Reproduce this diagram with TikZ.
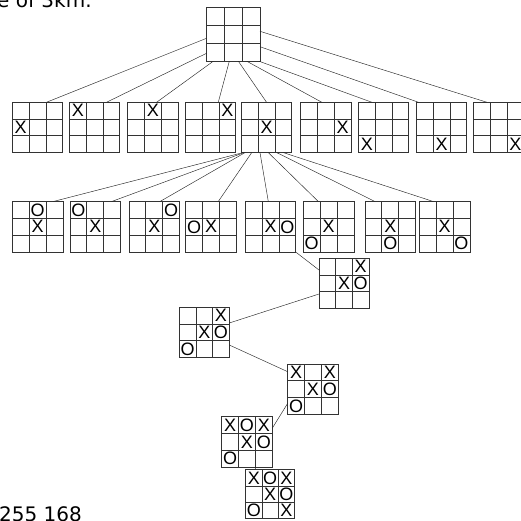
\documentclass[tikz,border=0pt]{standalone}
\usepackage{fontspec}
\setmainfont{Liberation Sans}
\newfontfamily\capfont{DejaVu Sans}
\usetikzlibrary{calc}

\tikzset{
  boardnode/.style={inner sep=0pt, outer sep=0pt},
  boardline/.style={line width=0.8pt, black!80},
  edge/.style={line width=0.45pt, black!85},
  markfont/.style={font=\fontsize{18}{18}\selectfont, inner sep=0pt},
  captext/.style={anchor=base west, inner sep=0pt, font=\capfont\fontsize{20}{20}\selectfont}
}

% Spielfeld: Name, linke Kante, obere Kante, Groesse
\newcommand{\tttboard}[4]{%
  \node[boardnode, minimum size=#4pt] (#1) at ({#2+#4/2},{#3+#4/2}) {};
  \draw[boardline] (#1.north west) rectangle (#1.south east);
  \foreach \k in {1,2} {
    \draw[boardline] ($(#1.north west)!\k/3!(#1.north east)$) -- ($(#1.south west)!\k/3!(#1.south east)$);
    \draw[boardline] ($(#1.north west)!\k/3!(#1.south west)$) -- ($(#1.north east)!\k/3!(#1.south east)$);
  }
}
% Zeichen: Name, Groesse, Zeile/Spalte/Zeichen
\newcommand{\tttmarks}[3]{%
  \foreach \row/\col/\mk in {#3}
    \node[markfont] at ($(#1.north west)+({(\col-0.5)*#2/3},{(\row-0.5)*#2/3})$) {\mk};
}

\begin{document}
\begin{tikzpicture}[x=1pt,y=-1pt]
  \useasboundingbox (0,0) rectangle (521,520);

  % Textreste am Rand
  \node[captext] (kopf) at (-3,7) {e of 3km.};
  \node[captext] (fuss) at (-1,521.5) {255 168};

  % Startfeld
  \tttboard{root}{206.5}{7.7}{53.5}

  % erster Zug (X)
  \foreach \n/\lx/\zr/\zc in {1/12.3/2/1, 2/69.4/1/1, 3/127.7/1/2, 4/185.3/1/3,
      5/241.3/2/2, 6/300.7/2/3, 7/358.4/3/1, 8/416.4/3/2, 9/473.4/3/3} {
    \tttboard{x\n}{\lx}{102.2}{50.4}
    \tttmarks{x\n}{50.4}{\zr/\zc/X}
  }

  \draw[edge] ([yshift=-3.85pt]root.west) -- ([xshift=9.2pt]x1.north);
  \draw[edge] ([yshift=-18.85pt]root.west) -- ([xshift=12.1pt]x2.north);
  \draw[edge] ([xshift=-19.95pt]root.south) -- ([xshift=3.8pt]x3.north);
  \draw[edge] ([xshift=-3.95pt]root.south) -- ([xshift=7.8pt]x4.north);
  \draw[edge] ([xshift=5.05pt]root.south) -- (x5.north);
  \draw[edge] ([xshift=13.45pt]root.south) -- ([xshift=-4.2pt]x6.north);
  \draw[edge] ([xshift=25.75pt]root.south) -- ([xshift=-11.9pt]x7.north);
  \draw[edge] ([yshift=-12.25pt]root.east) -- ([xshift=-23.3pt]x8.north);
  \draw[edge] ([yshift=3.15pt]root.east) -- ([xshift=-11.9pt]x9.north);

  % Antworten (O)
  \foreach \n/\lx/\zr/\zc in {1/12.3/1/2, 2/70/1/1, 3/129/1/3, 4/185.7/2/1,
      5/245.2/2/3, 6/303.3/3/1, 7/365/3/2, 8/419.3/3/3} {
    \tttboard{o\n}{\lx}{201.5}{50.6}
    \tttmarks{o\n}{50.6}{2/2/X, \zr/\zc/O}
  }

  \draw[edge] ([xshift=-23.5pt]x5.south) -- ([xshift=15.7pt]o1.north);
  \draw[edge] ([xshift=-22.5pt]x5.south) -- ([xshift=16.4pt]o2.north);
  \draw[edge] ([xshift=-21.5pt]x5.south) -- ([xshift=5.7pt]o3.north);
  \draw[edge] ([xshift=-14.8pt]x5.south) -- ([xshift=7.3pt]o4.north);
  \draw[edge] ([xshift=-6.5pt]x5.south) -- ([xshift=-2.2pt]o5.north);
  \draw[edge] ([xshift=1.8pt]x5.south) -- ([xshift=-10.3pt]o6.north);
  \draw[edge] ([xshift=10.2pt]x5.south) -- ([xshift=-15.3pt]o7.north);
  \draw[edge] ([xshift=16.8pt]x5.south) -- ([xshift=-11.3pt]o8.north);

  % weiterer Spielverlauf
  \tttboard{g3}{319}{258.3}{50}
  \tttmarks{g3}{50}{1/3/X, 2/2/X, 2/3/O}
  \draw[edge] (o5.south east) -- ([yshift=13.3pt]g3.west);

  \tttboard{g4}{179.3}{307.3}{50}
  \tttmarks{g4}{50}{1/3/X, 2/2/X, 2/3/O, 3/1/O}
  \draw[edge] ([yshift=-10.7pt]g3.west) -- ([yshift=9.3pt]g4.east);

  \tttboard{g5}{287.7}{364}{50.5}
  \tttmarks{g5}{50.5}{1/1/X, 1/3/X, 2/2/X, 2/3/O, 3/1/O}
  \draw[edge] ([yshift=-12.7pt]g4.east) -- ([yshift=17.55pt]g5.west);

  \tttboard{g6}{221.7}{416.7}{50.5}
  \tttmarks{g6}{50.5}{1/1/X, 1/2/O, 1/3/X, 2/2/X, 2/3/O, 3/1/O}
  \draw[edge] ([yshift=-14.05pt]g5.west) -- ([yshift=13.65pt]g6.east);

  \tttboard{g7}{245.7}{469.7}{48.8}
  \tttmarks{g7}{48.8}{1/1/X, 1/2/O, 1/3/X, 2/2/X, 2/3/O, 3/1/O, 3/3/X}
  \draw[edge] ([xshift=8.75pt]g6.south) -- ([xshift=-15pt]g7.north);
\end{tikzpicture}
\end{document}
